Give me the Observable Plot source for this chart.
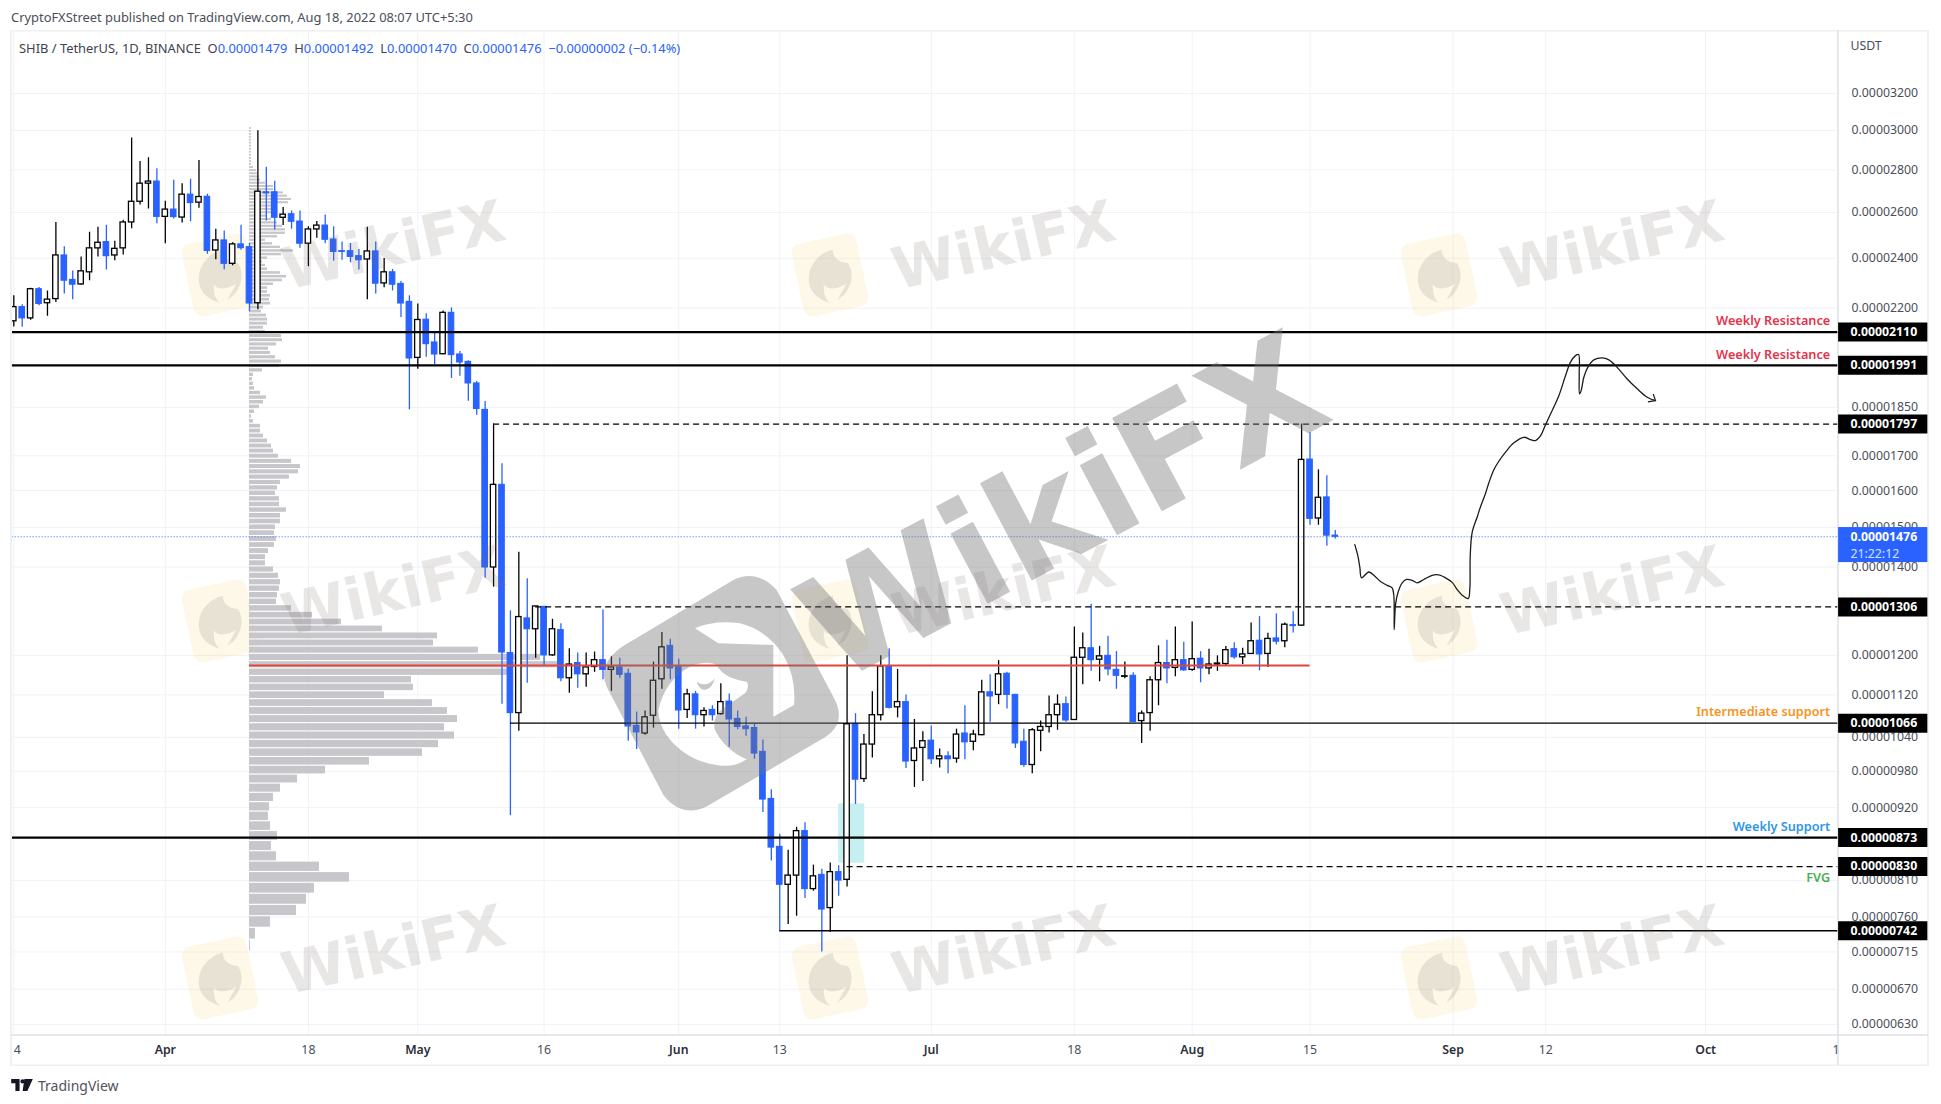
<!DOCTYPE html>
<html><head><meta charset="utf-8">
<script src="https://cdn.jsdelivr.net/npm/d3@7"></script>
<script src="https://cdn.jsdelivr.net/npm/@observablehq/plot@0.6"></script>
<style>
html,body{margin:0;padding:0;background:#fff;overflow:hidden;width:1941px;height:1104px}
body{font-family:"Noto Sans",sans-serif;color:#4a4e59;position:relative}
#top{height:30px;line-height:34px;padding-left:11px;font-size:12.9px;box-sizing:border-box;white-space:nowrap}
#legend{position:absolute;left:19px;top:38.5px;font-size:12.9px;white-space:pre;line-height:18px;color:#3f4350}
#legend b{font-weight:400;color:#2962ff}
#foot{height:38px;display:flex;align-items:center;padding-left:11px;font-size:14px;color:#50535e;gap:5px;box-sizing:border-box}
svg{display:block}
</style></head><body>
<div id="top">CryptoFXStreet published on TradingView.com, Aug 18, 2022 08:07 UTC+5:30</div>
<div id="legend">SHIB / TetherUS, 1D, BINANCE  O<b>0.00001479</b>  H<b>0.00001492</b>  L<b>0.00001470</b>  C<b>0.00001476</b>  <b>−0.00000002 (−0.14%)</b></div>
<div id="chart"></div>
<div id="foot"><svg width="22" height="12" viewBox="0 0 36 20"><path d="M0 0h14v20H7V7H0z M22 0h14L27 20H19z" fill="#131722"/><circle cx="19" cy="4" r="3.6" fill="#131722"/></svg><span>TradingView</span></div>
<script>
// Prices are in units of 0.00000001 USDT. Candle i is the day i after 14 March 2022.
const opens=[2150,2204,2161,2274,2219,2235,2412,2311,2293,2342,2442,2469,2412,2442,2555,2649,2734,2744,2580,2613,2577,2682,2645,2672,2433,2476,2377,2459,2447,2219,2693,2693,2576,2592,2559,2462,2524,2541,2480,2430,2430,2409,2395,2429,2297,2342,2295,2224,2017,2156,2072,2030,2182,2029,2003,1929,1842,1399,1616,1205,1085,1280,1256,1306,1200,1254,1153,1184,1161,1176,1190,1170,1175,1162,1061,1047,1080,1151,1220,1176,1091,1121,1081,1091,1083,1107,1074,1060,1057,1014,934,859,804,817,883,798,818,772,822,811,1064,967,1027,1081,1177,1096,1106,998,1021,1034,1001,1006,1002,1047,1032,1044,1125,1120,1162,1120,1032,991,1052,1059,1081,1102,1072,1195,1215,1191,1199,1170,1156,1158,1070,1085,1149,1184,1174,1190,1170,1193,1173,1181,1182,1213,1196,1203,1231,1203,1236,1230,1265,1264,1689,1524,1581,1479];
const closes=[2204,2161,2274,2216,2233,2412,2308,2292,2346,2442,2466,2409,2440,2555,2649,2734,2744,2580,2613,2579,2682,2643,2671,2431,2476,2377,2459,2443,2218,2696,2688,2576,2590,2558,2462,2524,2541,2479,2427,2427,2406,2392,2429,2296,2342,2292,2218,2015,2155,2066,2029,2182,2027,2001,1929,1845,1399,1616,1206,1085,1283,1256,1307,1200,1256,1153,1181,1161,1175,1190,1170,1175,1160,1060,1049,1077,1148,1217,1173,1090,1121,1081,1089,1081,1106,1073,1059,1055,1011,933,858,804,817,883,798,816,770,822,810,1064,966,1027,1081,1177,1095,1106,997,1020,1033,1001,1006,1001,1045,1031,1045,1125,1117,1161,1120,1029,991,1053,1059,1081,1101,1071,1195,1215,1190,1198,1171,1158,1157,1068,1084,1149,1184,1173,1190,1169,1192,1173,1181,1183,1211,1196,1202,1230,1202,1235,1229,1266,1263,1688,1523,1580,1479,1476];
const highs=[2248,2213,2278,2281,2267,2555,2449,2347,2405,2512,2534,2543,2473,2565,2961,2842,2860,2806,2651,2750,2734,2755,2847,2684,2525,2517,2466,2543,2463,2999,2813,2745,2622,2607,2607,2536,2559,2588,2536,2469,2463,2437,2534,2469,2399,2354,2305,2248,2216,2179,2105,2189,2201,2040,2007,1936,1869,1797,1677,1297,1437,1372,1307,1307,1278,1268,1214,1205,1205,1207,1299,1197,1194,1172,1087,1089,1186,1249,1234,1192,1131,1127,1095,1099,1142,1122,1089,1077,1065,1035,949,878,854,889,896,832,826,835,831,1199,1084,1045,1126,1199,1214,1171,1120,1073,1050,1061,1019,1014,1055,1099,1053,1149,1160,1189,1165,1121,1055,1056,1070,1118,1120,1116,1261,1248,1312,1219,1241,1208,1186,1164,1089,1156,1220,1232,1261,1228,1272,1208,1213,1199,1219,1227,1215,1270,1284,1247,1290,1270,1295,1797,1771,1659,1642,1492];
const lows=[2129,2128,2154,2209,2169,2222,2255,2232,2290,2308,2405,2351,2390,2414,2527,2634,2616,2549,2462,2570,2553,2558,2619,2417,2394,2352,2369,2434,2186,2194,2561,2521,2541,2525,2443,2365,2486,2462,2388,2392,2381,2351,2232,2255,2280,2267,2164,1842,1977,2019,1994,2028,1946,1953,1870,1825,1373,1352,1102,907,1051,1143,1194,1177,1198,1146,1123,1133,1135,1165,1150,1127,1153,1033,1018,1044,1057,1131,1150,1055,1075,1055,1059,1070,1081,1022,1054,1042,1001,912,838,742,750,761,785,795,715,740,788,801,925,961,1003,1070,1093,1076,985,953,963,992,986,976,994,1000,1016,1043,1068,1101,1093,1020,987,976,1014,1048,1053,1068,1071,1140,1167,1146,1158,1131,1152,1067,1029,1051,1099,1142,1156,1167,1167,1144,1160,1167,1179,1192,1181,1202,1168,1175,1222,1216,1248,1262,1506,1506,1452,1470];
// Visible-range volume profile, lowest price row first; row k is centred on 723 + 15.25k.
const profile=[1,6,21,47,57,65,100,70,27,22,28,21,19,20,24,31,48,76,120,173,189,205,195,208,198,183,135,164,162,258,308,291,229,184,188,133,92,63,42,27,28,30,31,29,24,16,16,19,25,27,25,26,31,31,37,30,30,26,28,31,40,49,51,42,29,24,22,18,14,11,11,4,2,5,10,14,17,11,5,4,3,4,13,30,32,26,21,19,27,33,32,16,14,18,18,17,12,14,21,20,21,18,18,24,33,37,31,18,16,13,18,32,44,31,23,16,28,36,36,33,28,22,18,23,26,28,39,42,38,34,24,24,16,11,10,8,7,4,2,2,2,2,2,2,2,2,2,2,2,2,2];
// Hand-drawn projection: day index and price.
const sketchDays=[159.32,159.68,159.92,160.12,160.99,161.70,162.37,163.17,163.76,163.96,164.0,164.16,164.43,164.95,165.46,166.14,166.73,167.52,168.51,169.30,170.10,170.89,171.48,172.08,172.79,172.99,173.03,173.26,173.86,174.25,174.85,175.25,175.84,176.43,177.23,178.22,179.40,180.2,180.79,181.38,181.98,182.77,183.56,184.35,184.95,185.54,185.90,185.98,186.02,186.21,186.53,187.0,187.72,188.71,189.5,190.49,191.68,192.87,194.06,195.05];
const sketchPrices=[1456,1428,1399,1374,1388,1378,1365,1356,1350,1331,1255,1311,1338,1362,1370,1368,1362,1370,1380,1381,1374,1363,1346,1333,1325,1350,1425,1487,1528,1555,1592,1622,1659,1684,1711,1739,1756,1749,1746,1760,1795,1840,1888,1955,2002,2025,2029,1961,1894,1905,1950,1984,2010,2017,2010,1984,1944,1911,1883,1872];
const arrowDays=[194.77,194.14], arrowPrices=[1894,1868];

const priceTicks=[3200,3000,2800,2600,2400,2200,1850,1700,1600,1500,1400,1200,1120,1040,980,920,810,760,715,670,630];
const tagPrices=[2110,1991,1797,1306,1066,873,830,742];
const monthDays=[18,48,79,109,140,171,201], monthNames=["Apr","May","Jun","Jul","Aug","Sep","Oct"];
const numDays=[0.4,35,63,91,126,154,182,216.5], numNames=["4","18","16","13","18","15","12","1"];
const gridDays=[0,18,35,48,63,79,91,109,126,140,154,171,182,201];
const notes=[["Weekly Resistance",2152,"#e6334a"],["Weekly Resistance",2028,"#e6334a"],["Intermediate support",1088,"#f7931e"],["Weekly Support",890,"#2f96e8"],["FVG",814,"#4caf50"]];
const tileDays=[45.1,117.6,189.9], tilePrices=[2450,1340,716];

const day=n=>new Date(Date.UTC(2022,2,14)+n*864e5);
const fmt=p=>(p*1e-8).toFixed(8);
const candles=opens.map((o,i)=>({i,o,c:closes[i],h:highs[i],l:lows[i]}));
const up=candles.filter(d=>d.c>=d.o), down=candles.filter(d=>d.c<d.o);
const rows=profile.map((v,k)=>({v,p:723+15.25*k}));
const sketch=sketchDays.map((d,i)=>({d,p:sketchPrices[i]}));
const tiles=tilePrices.flatMap(p=>tileDays.map(d=>({d,p})));
const LEFT=-0.2, RIGHT=216.8, TAGEND=227.4, BIN=15.25, PXDAY=8.417;
const blue="#2962ff", font="'Noto Sans',sans-serif";

function level(price,from,opts){return Plot.ruleY([price],{x1:()=>day(from),x2:()=>day(RIGHT),stroke:"#000",clip:"frame",...opts});}

function chrome(){
  const g=d3.create("svg:g");
  g.append("rect").attr("x",11).attr("y",0.5).attr("width",1917).attr("height",1035).attr("fill","none").attr("stroke","#eef0f3").attr("stroke-width",2);
  g.append("line").attr("x1",11).attr("x2",1928).attr("y1",1005).attr("y2",1005).attr("stroke","#dfe1e6").attr("stroke-width",1.5);
  g.append("line").attr("x1",1838).attr("x2",1838).attr("y1",0).attr("y2",1035).attr("stroke","#dfe1e6").attr("stroke-width",1.5);
  return g.node();
}
function tileLogos(){
  const g=d3.create("svg:g");
  for(const cy of [245,591,948]) for(const cx of [220,830,1439]){
    const t=g.append("g").attr("transform",`translate(${cx},${cy}) rotate(-12)`);
    t.append("rect").attr("x",-33).attr("y",-37).attr("width",66).attr("height",74).attr("rx",9).attr("fill","rgba(250,215,120,.17)");
    t.append("path").attr("d","M-22 2C-20-14-6-24 8-24C6-16 12-10 20-8C24 2 20 14 10 22L2 26L14 12C4 16-6 14-8 8C-10 16-10 22-6 27C-16 22-23 14-22 2Z").attr("fill","rgba(110,110,110,.16)");
  }
  return g.node();
}
function bigLogo(){
  const g=d3.create("svg:g").attr("transform","translate(600,290) scale(.3333)");
  const outer="M100 960L400 780Q470 745 530 810L700 1130Q745 1210 670 1255L320 1460Q245 1495 190 1425L20 1100Q-15 1020 100 960Z";
  const crest="M285 925Q345 900 420 910Q500 930 550 1005Q590 1075 582 1155L520 1190L520 975L355 970Z";
  const body="M175 1170Q195 1080 270 1040Q320 1020 350 1035Q370 1075 440 1085Q450 1100 435 1120L370 1165Q335 1190 345 1230Q375 1290 440 1318Q400 1345 350 1335Q270 1325 215 1265Q175 1220 175 1170Z";
  g.append("path").attr("d",outer+crest+body).attr("fill-rule","evenodd").attr("fill","rgba(115,115,118,.40)");
  g.append("path").attr("d","M290 1085Q320 1105 345 1075Q335 1110 312 1110Q296 1105 290 1085Z").attr("fill","rgba(115,115,118,.40)");
  return g.node();
}

const plot=Plot.plot({
  width:1941,height:1036,
  marginLeft:11.5,marginRight:103,marginTop:0,marginBottom:31,
  style:{background:"#fff",fontFamily:font,fontSize:"12.3px",color:"#4a4e59"},
  x:{type:"utc",domain:[day(0),day(217)],range:[13.3,1839.8]},
  y:{type:"log",domain:[630,3200],range:[994,63]},
  marks:[
    Plot.gridY(priceTicks,{stroke:"#f0f2f6",strokeOpacity:1}),
    Plot.gridX(gridDays.map(day),{stroke:"#f0f2f6",strokeOpacity:1}),
    tileLogos,
    Plot.rect([0],{x1:()=>day(98),x2:()=>day(101.1),y1:()=>926,y2:()=>835,fill:"#c6eff2"}),
    Plot.rect(rows,{x1:()=>day(28),x2:d=>day(28+d.v/PXDAY),y1:d=>d.p-BIN/2,y2:d=>d.p+BIN/2,insetTop:.6,insetBottom:.6,fill:"#c6c6cb"}),
    Plot.ruleX(up,{x:d=>day(d.i),y1:"l",y2:"h",stroke:"#000",strokeWidth:1.3,clip:"frame"}),
    Plot.ruleX(down,{x:d=>day(d.i),y1:"l",y2:"h",stroke:blue,strokeWidth:1.3,clip:"frame"}),
    Plot.rect(down,{x1:d=>day(d.i-.33),x2:d=>day(d.i+.33),y1:"o",y2:"c",fill:blue,stroke:blue,strokeWidth:1.1,clip:"frame"}),
    Plot.rect(up,{x1:d=>day(d.i-.32),x2:d=>day(d.i+.32),y1:"o",y2:"c",fill:"#fff",stroke:"#000",strokeWidth:1.3,clip:"frame"}),
    Plot.ruleY([1179],{x1:()=>day(28),x2:()=>day(154),stroke:"#e0473a",strokeWidth:2}),
    level(1476,LEFT,{stroke:"#2962ff",strokeWidth:1,strokeDasharray:"1,2"}),
    level(2110,LEFT,{strokeWidth:2.2}),
    level(1991,LEFT,{strokeWidth:2.2}),
    level(873,LEFT,{strokeWidth:2.2}),
    level(1797,57,{strokeWidth:1.2,strokeDasharray:"6,4"}),
    level(1306,62,{strokeWidth:1.2,strokeDasharray:"6,4"}),
    level(830,99,{strokeWidth:1.2,strokeDasharray:"6,4"}),
    level(1066,59,{strokeWidth:1.3}),
    level(742,91,{strokeWidth:1.3}),
    Plot.line(sketch,{x:d=>day(d.d),y:"p",stroke:"#1c1c1c",strokeWidth:1.3,curve:"catmull-rom"}),
    Plot.link(arrowDays,{x1:d=>day(d),y1:(d,i)=>arrowPrices[i],x2:()=>day(195.05),y2:()=>1872,stroke:"#1c1c1c",strokeWidth:1.2}),
    chrome,
    Plot.axisY({anchor:"right",ticks:priceTicks,tickSize:0,tickPadding:13,tickFormat:fmt,label:null,fill:"#4a4e59"}),
    Plot.axisX({ticks:monthDays.map(day),tickSize:0,tickPadding:10,label:null,fontWeight:600,fill:"#2a2e39",tickFormat:d=>monthNames[monthDays.findIndex(n=>+day(n)===+d)]}),
    Plot.axisX({ticks:numDays.map(day),tickSize:0,tickPadding:10,label:null,fill:"#4a4e59",tickFormat:d=>numNames[numDays.findIndex(n=>+day(n)===+d)]}),
    Plot.text(["USDT"],{x:()=>day(218.2),y:()=>3475,textAnchor:"start",fill:"#4a4e59"}),
    Plot.text(notes,{x:()=>day(215.8),y:d=>d[1],text:d=>d[0],fill:d=>d[2],textAnchor:"end",fontWeight:600,fontSize:12.7}),
    Plot.ruleY(tagPrices,{x1:()=>day(RIGHT),x2:()=>day(TAGEND),stroke:"#000",strokeWidth:19}),
    Plot.text(tagPrices,{x:()=>day(218.2),y:d=>d,text:fmt,fill:"#fff",fontWeight:700,textAnchor:"start"}),
    Plot.rect([0],{x1:()=>day(RIGHT),x2:()=>day(TAGEND),y1:()=>1500,y2:()=>1411,fill:blue}),
    Plot.text([1476],{x:()=>day(218.2),y:d=>d,text:fmt,fill:"#fff",fontWeight:700,textAnchor:"start"}),
    Plot.text(["21:22:12"],{x:()=>day(218.2),y:()=>1433,fill:"#d5e2ff",textAnchor:"start"}),
    Plot.text(tiles,{x:d=>day(d.d),y:"p",text:()=>"WikiFX",rotate:-13,fontSize:58,fontWeight:700,fontFamily:"DejaVu Sans",fill:"rgba(125,110,105,.17)"}),
    Plot.text(["WikiFX"],{x:()=>day(124.8),y:()=>1545,rotate:-28,fontSize:145,fontWeight:700,fontFamily:"DejaVu Sans",fill:"rgba(115,115,118,.40)"}),
    bigLogo
  ]
});
document.getElementById("chart").appendChild(plot);
</script>
</body></html>
